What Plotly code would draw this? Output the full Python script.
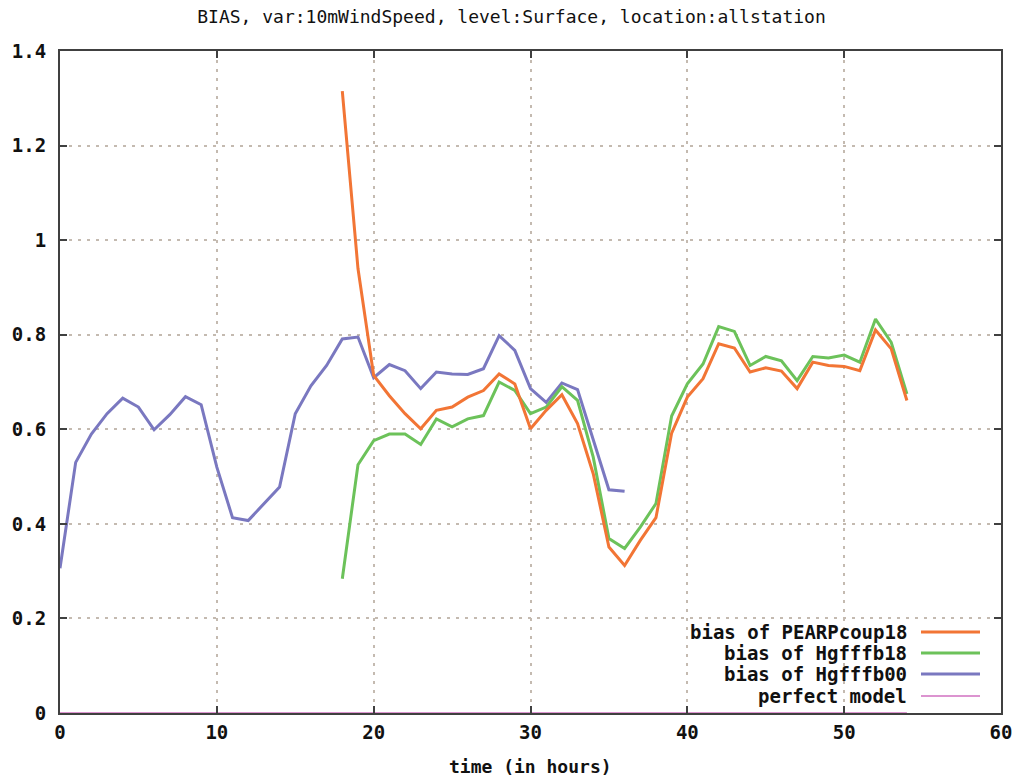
import plotly.graph_objects as go

hours_b00 = list(range(0, 37))
bias_b00 = [0.306, 0.53, 0.59, 0.633, 0.666, 0.647, 0.599, 0.631, 0.669, 0.652,
            0.52, 0.413, 0.407, 0.443, 0.478, 0.633, 0.692, 0.735, 0.791, 0.795,
            0.709, 0.737, 0.724, 0.686, 0.721, 0.717, 0.716, 0.728, 0.798, 0.767,
            0.686, 0.657, 0.698, 0.684, 0.578, 0.472, 0.469]

hours_18 = list(range(18, 55))
bias_pearp = [1.315, 0.94, 0.714, 0.671, 0.633, 0.601, 0.640, 0.647, 0.668, 0.682,
              0.717, 0.696, 0.601, 0.640, 0.673, 0.612, 0.506, 0.351, 0.312, 0.365,
              0.413, 0.592, 0.668, 0.707, 0.781, 0.772, 0.721, 0.730, 0.723, 0.686,
              0.742, 0.735, 0.733, 0.724, 0.810, 0.770, 0.661]
bias_b18 = [0.284, 0.525, 0.576, 0.590, 0.590, 0.568, 0.622, 0.605, 0.622, 0.629,
            0.700, 0.682, 0.633, 0.647, 0.690, 0.661, 0.541, 0.369, 0.348, 0.393,
            0.443, 0.628, 0.696, 0.738, 0.817, 0.807, 0.735, 0.754, 0.745, 0.703,
            0.754, 0.751, 0.757, 0.742, 0.833, 0.784, 0.675]

hours_perfect = [0, 54]
perfect = [0, 0]

names = ["bias of PEARPcoup18", "bias of Hgfffb18", "bias of Hgfffb00", "perfect model"]
colors = ["#f27535", "#6cc25a", "#7a78c0", "#d070c0"]
widths = [3, 3, 3, 1.5]

fig = go.Figure()
fig.add_trace(go.Scatter(x=hours_perfect, y=perfect, mode="lines",
                         line=dict(color=colors[3], width=widths[3]), name=names[3]))
fig.add_trace(go.Scatter(x=hours_b00, y=bias_b00, mode="lines",
                         line=dict(color=colors[2], width=widths[2]), name=names[2]))
fig.add_trace(go.Scatter(x=hours_18, y=bias_b18, mode="lines",
                         line=dict(color=colors[1], width=widths[1]), name=names[1]))
fig.add_trace(go.Scatter(x=hours_18, y=bias_pearp, mode="lines",
                         line=dict(color=colors[0], width=widths[0]), name=names[0]))

# manual legend (text right, sample on the right), gnuplot style
L, R, T, B = 60, 22, 51, 67
W, H = 1023, 780
pw, ph = W - L - R, H - T - B
rows_px = [632, 653, 674, 696]
for name, col, wd, ypx in zip(names, colors, widths, rows_px):
    yp = 1 - (ypx - T) / ph
    fig.add_annotation(x=(909 - L) / pw, y=yp, xref="paper", yref="paper",
                       text=name, showarrow=False, xanchor="right", yanchor="middle",
                       font=dict(family="DejaVu Sans Mono", size=19, color="#111111", weight="bold"))
    fig.add_shape(type="line", xref="paper", yref="paper",
                  x0=(921 - L) / pw, x1=(980 - L) / pw, y0=yp, y1=yp,
                  line=dict(color=col, width=wd))

# x-axis title as an annotation (gnuplot position)
fig.add_annotation(x=0.5, y=1 - (766 - T) / ph, xref="paper", yref="paper",
                   text="time (in hours)", showarrow=False, xanchor="center", yanchor="middle",
                   font=dict(family="DejaVu Sans Mono", size=18, color="#111111", weight="bold"))

axis_common = dict(
    showline=True, linecolor="#404040", linewidth=2, mirror="allticks",
    ticks="inside", ticklen=7, tickcolor="#404040", tickwidth=2,
    showgrid=True, gridcolor="#c4bab0", gridwidth=1.5, griddash="3px,6px",
    zeroline=False, automargin=False,
    tickfont=dict(family="DejaVu Sans Mono", size=19, color="#111111", weight="bold"),
)

fig.update_xaxes(range=[0, 60], dtick=10, tick0=0, ticklabelstandoff=1, **axis_common)
fig.update_yaxes(range=[0, 1.4], tickvals=[0, 0.2, 0.4, 0.6, 0.8, 1, 1.2, 1.4],
                 ticktext=["0", "0.2", "0.4", "0.6", "0.8", "1", "1.2", "1.4"],
                 ticklabelstandoff=8, **axis_common)

fig.update_layout(
    width=W, height=H,
    margin=dict(l=L, r=R, t=T, b=B),
    paper_bgcolor="white", plot_bgcolor="white",
    showlegend=False,
    title=dict(text="BIAS, var:10mWindSpeed, level:Surface, location:allstation",
               x=0.5, xanchor="center", y=1 - 17 / H, yanchor="middle",
               font=dict(family="DejaVu Sans Mono", size=18, color="#111111")),
)

fig.write_html("out.html")
